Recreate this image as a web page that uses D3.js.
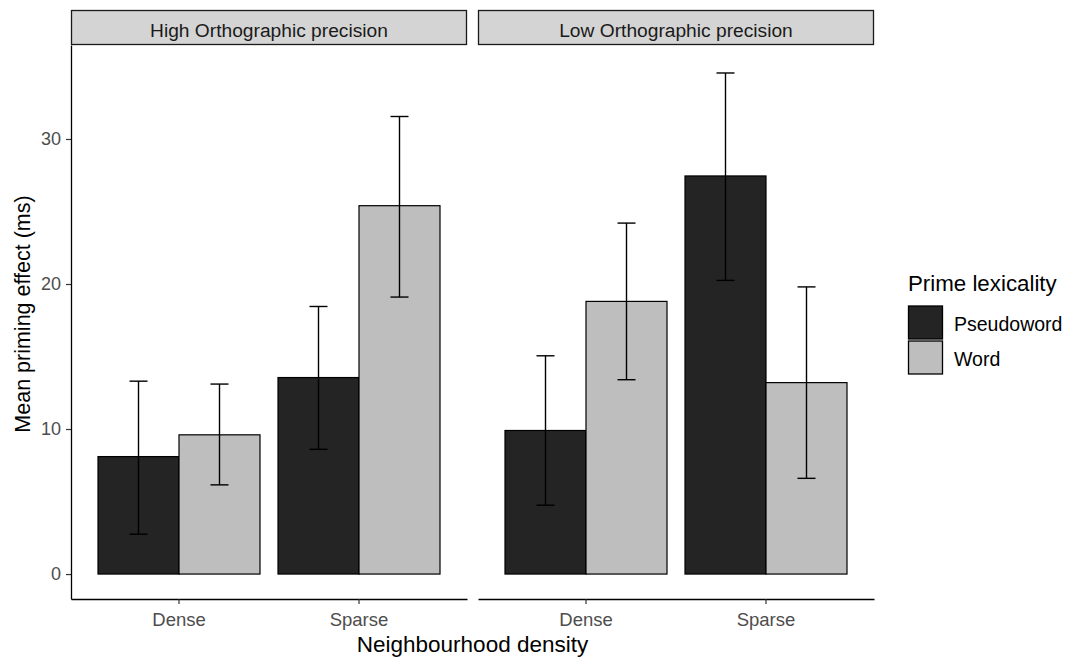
<!doctype html>
<html lang="en">
<head>
  <meta charset="utf-8">
  <title>Mean priming effect</title>
  <script src="https://d3js.org/d3.v7.min.js"></script>
  <style>
    body { margin: 0; background: #fff; }
    text { font-family: "Liberation Sans", Arial, sans-serif; }
  </style>
</head>
<body>
<div id="my_chart"></div>
<script>
  // data
  var panels = ["High Orthographic precision", "Low Orthographic precision"];
  var densities = ["Dense", "Sparse"];
  var lexicality = ["Pseudoword", "Word"];
  // means, per panel: [Dense Pseudo, Dense Word, Sparse Pseudo, Sparse Word]
  var high_means = [8.1, 9.6, 13.55, 25.4];
  var high_lower = [2.75, 6.15, 8.6, 19.1];
  var high_upper = [13.3, 13.1, 18.45, 31.55];
  var low_means = [9.9, 18.8, 27.45, 13.2];
  var low_lower = [4.75, 13.4, 20.25, 6.6];
  var low_upper = [15.05, 24.2, 34.55, 19.8];
  var y_ticks = [0, 10, 20, 30];

  var width = 1066, height = 659;
  var panel_x = [71, 478];
  var panel_w = 396;
  var plot_top = 45, plot_bottom = 599;
  var fills = {"Pseudoword": "#242424", "Word": "#bebebe"};
  var font = '"Liberation Sans", Arial, sans-serif';

  function rows(means, lower, upper) {
    var out = [];
    densities.forEach(function (d, i) {
      lexicality.forEach(function (l, j) {
        var k = i * 2 + j;
        out.push({density: d, lex: l, mean: means[k], lo: lower[k], hi: upper[k]});
      });
    });
    return out;
  }
  var panel_data = [rows(high_means, high_lower, high_upper), rows(low_means, low_lower, low_upper)];

  var svg = d3.select('#my_chart').append('svg')
    .attr('width', width)
    .attr('height', height)
    .style('background', '#fff');

  var y = d3.scaleLinear()
    .domain([-1.72, 36.48])
    .range([plot_bottom, plot_top]);

  panels.forEach(function (name, p) {
    var x0 = panel_x[p];
    var x = d3.scaleBand()
      .domain(densities)
      .range([x0, x0 + panel_w])
      .paddingInner(0.1)
      .paddingOuter(0.15);
    var xs = d3.scaleBand()
      .domain(lexicality)
      .range([0, x.bandwidth()]);

    // strip
    svg.append('rect')
      .attr('x', x0 + 0.5).attr('y', 10.5)
      .attr('width', panel_w - 1).attr('height', plot_top - 11)
      .attr('fill', '#d4d4d4').attr('stroke', '#1a1a1a').attr('stroke-width', 1.3);
    svg.append('text')
      .attr('x', x0 + panel_w / 2).attr('y', 37)
      .attr('text-anchor', 'middle')
      .attr('font-size', 19.2).attr('fill', '#1a1a1a')
      .text(name);

    var g = svg.append('g');
    var d = panel_data[p];
    g.selectAll('rect.bar').data(d).enter().append('rect')
      .attr('class', 'bar')
      .attr('x', function (r) { return x(r.density) + xs(r.lex); })
      .attr('width', xs.bandwidth())
      .attr('y', function (r) { return y(r.mean); })
      .attr('height', function (r) { return y(0) - y(r.mean); })
      .attr('fill', function (r) { return fills[r.lex]; })
      .attr('stroke', '#000').attr('stroke-width', 1.2);

    var cap = 9;
    var eb = g.selectAll('g.err').data(d).enter().append('g')
      .attr('class', 'err')
      .attr('transform', function (r) { return 'translate(' + (x(r.density) + xs(r.lex) + xs.bandwidth() / 2) + ',0)'; })
      .attr('stroke', '#000').attr('stroke-width', 1.4);
    eb.append('line').attr('x1', 0).attr('x2', 0)
      .attr('y1', function (r) { return y(r.lo); }).attr('y2', function (r) { return y(r.hi); });
    eb.append('line').attr('x1', -cap).attr('x2', cap)
      .attr('y1', function (r) { return y(r.hi); }).attr('y2', function (r) { return y(r.hi); });
    eb.append('line').attr('x1', -cap).attr('x2', cap)
      .attr('y1', function (r) { return y(r.lo); }).attr('y2', function (r) { return y(r.lo); });

    // x axis
    var ax = svg.append('g')
      .attr('transform', 'translate(0,' + plot_bottom + ')')
      .call(d3.axisBottom(x).tickSize(5).tickPadding(9).tickSizeOuter(0));
    ax.select('.domain').attr('stroke', '#000').attr('stroke-width', 1.3);
    ax.selectAll('.tick line').attr('stroke', '#333').attr('stroke-width', 1.2);
    ax.selectAll('.tick text').attr('font-size', 18.5).attr('fill', '#4d4d4d')
      .style('font-family', font);

    if (p === 0) {
      var ay = svg.append('g')
        .attr('transform', 'translate(' + x0 + ',0)')
        .call(d3.axisLeft(y).tickValues(y_ticks).tickSize(5).tickPadding(5).tickSizeOuter(0));
      ay.select('.domain').attr('stroke', '#000').attr('stroke-width', 1.3);
      ay.selectAll('.tick line').attr('stroke', '#333').attr('stroke-width', 1.2);
      ay.selectAll('.tick text').attr('font-size', 18).attr('fill', '#4d4d4d')
        .style('font-family', font);
    }
  });

  // axis titles
  svg.append('text')
    .attr('x', (panel_x[0] + panel_x[1] + panel_w) / 2).attr('y', 652)
    .attr('text-anchor', 'middle')
    .attr('font-size', 22.5).attr('fill', '#000')
    .text('Neighbourhood density');
  svg.append('text')
    .attr('transform', 'translate(30,314) rotate(-90)')
    .attr('text-anchor', 'middle')
    .attr('font-size', 21.5).attr('fill', '#000')
    .text('Mean priming effect (ms)');

  // legend
  var leg = svg.append('g').attr('transform', 'translate(908,0)');
  leg.append('text').attr('x', 0).attr('y', 291)
    .attr('font-size', 22.3).attr('fill', '#000')
    .text('Prime lexicality');
  lexicality.forEach(function (l, i) {
    leg.append('rect')
      .attr('x', 0.5).attr('y', 306 + i * 35)
      .attr('width', 34).attr('height', 33)
      .attr('fill', fills[l]).attr('stroke', '#000').attr('stroke-width', 1.3);
    leg.append('text')
      .attr('x', 46).attr('y', 324 + i * 35)
      .attr('dominant-baseline', 'central')
      .attr('font-size', 19.5).attr('fill', '#000')
      .text(l);
  });
</script>
</body>
</html>
